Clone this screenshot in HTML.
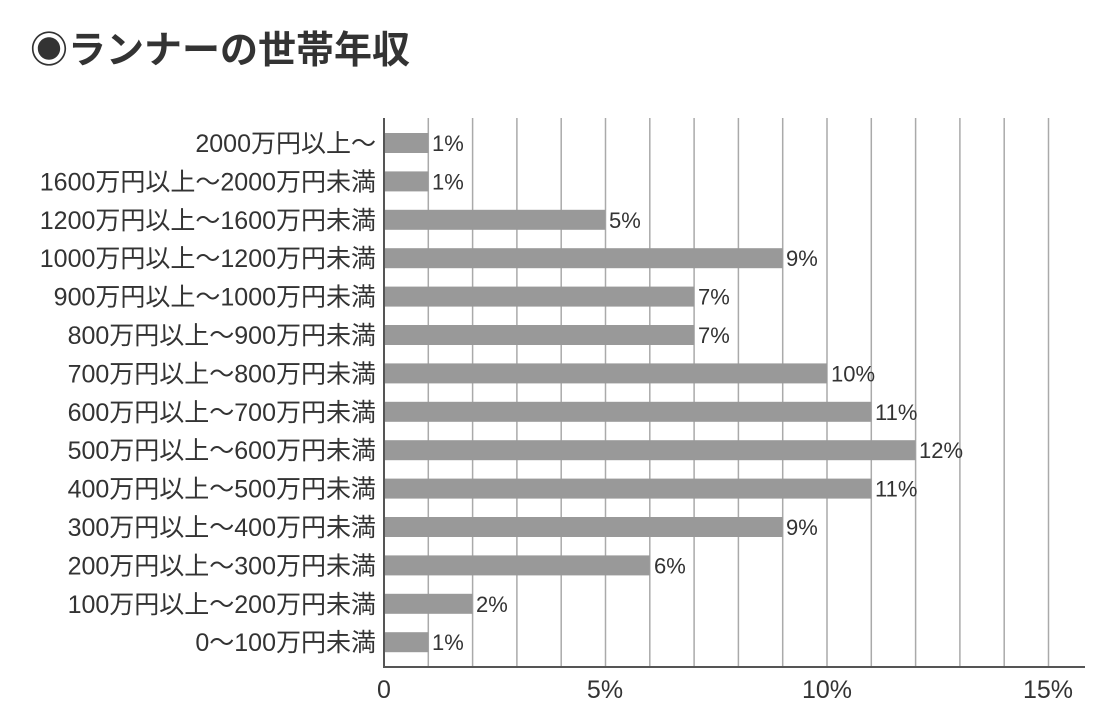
<!DOCTYPE html><html><head><meta charset="utf-8"><style>body{margin:0;background:#fff}svg text{font-family:"Liberation Sans","Noto Sans CJK JP",sans-serif;fill:#333}</style></head><body>
<svg width="1103" height="720" xmlns="http://www.w3.org/2000/svg">
<text x="30" y="63" font-size="38" font-weight="bold" fill="#222">◉ランナーの世帯年収</text>
<g stroke="#aaa" stroke-width="1.5">
<line x1="428.3" y1="118" x2="428.3" y2="667"/><line x1="472.6" y1="118" x2="472.6" y2="667"/><line x1="516.9" y1="118" x2="516.9" y2="667"/><line x1="561.2" y1="118" x2="561.2" y2="667"/><line x1="605.5" y1="118" x2="605.5" y2="667"/><line x1="649.8" y1="118" x2="649.8" y2="667"/><line x1="694.1" y1="118" x2="694.1" y2="667"/><line x1="738.4" y1="118" x2="738.4" y2="667"/><line x1="782.7" y1="118" x2="782.7" y2="667"/><line x1="827" y1="118" x2="827" y2="667"/><line x1="871.3" y1="118" x2="871.3" y2="667"/><line x1="915.6" y1="118" x2="915.6" y2="667"/><line x1="959.9" y1="118" x2="959.9" y2="667"/><line x1="1004.2" y1="118" x2="1004.2" y2="667"/><line x1="1048.5" y1="118" x2="1048.5" y2="667"/>
</g>
<g fill="#999">
<rect x="385" y="133" width="43.3" height="20"/>
<rect x="385" y="171.4" width="43.3" height="20"/>
<rect x="385" y="209.8" width="220.5" height="20"/>
<rect x="385" y="248.2" width="397.7" height="20"/>
<rect x="385" y="286.6" width="309.1" height="20"/>
<rect x="385" y="325" width="309.1" height="20"/>
<rect x="385" y="363.4" width="442" height="20"/>
<rect x="385" y="401.8" width="486.3" height="20"/>
<rect x="385" y="440.2" width="530.6" height="20"/>
<rect x="385" y="478.6" width="486.3" height="20"/>
<rect x="385" y="517" width="397.7" height="20"/>
<rect x="385" y="555.4" width="264.8" height="20"/>
<rect x="385" y="593.8" width="87.6" height="20"/>
<rect x="385" y="632.2" width="43.3" height="20"/>
</g>
<g stroke="#555" stroke-width="2"><line x1="384" y1="118" x2="384" y2="668"/><line x1="383" y1="667" x2="1085" y2="667"/></g>
<g font-size="25" text-anchor="end">
<text x="376" y="152">2000万円以上〜</text>
<text x="376" y="190.4">1600万円以上〜2000万円未満</text>
<text x="376" y="228.8">1200万円以上〜1600万円未満</text>
<text x="376" y="267.2">1000万円以上〜1200万円未満</text>
<text x="376" y="305.6">900万円以上〜1000万円未満</text>
<text x="376" y="344">800万円以上〜900万円未満</text>
<text x="376" y="382.4">700万円以上〜800万円未満</text>
<text x="376" y="420.8">600万円以上〜700万円未満</text>
<text x="376" y="459.2">500万円以上〜600万円未満</text>
<text x="376" y="497.6">400万円以上〜500万円未満</text>
<text x="376" y="536">300万円以上〜400万円未満</text>
<text x="376" y="574.4">200万円以上〜300万円未満</text>
<text x="376" y="612.8">100万円以上〜200万円未満</text>
<text x="376" y="651.2">0〜100万円未満</text>
</g>
<g font-size="22">
<text x="432" y="151">1%</text><text x="432" y="189.4">1%</text><text x="609" y="227.8">5%</text><text x="786" y="266.2">9%</text><text x="698" y="304.6">7%</text><text x="698" y="343">7%</text><text x="831" y="381.4">10%</text><text x="875" y="419.8">11%</text><text x="919" y="458.2">12%</text><text x="875" y="496.6">11%</text><text x="786" y="535">9%</text><text x="654" y="573.4">6%</text><text x="476" y="611.8">2%</text><text x="432" y="650.2">1%</text>
</g>
<g font-size="25" text-anchor="middle">
<text x="384" y="698">0</text><text x="605" y="698">5%</text><text x="827" y="698">10%</text><text x="1048" y="698">15%</text>
</g>
</svg></body></html>
